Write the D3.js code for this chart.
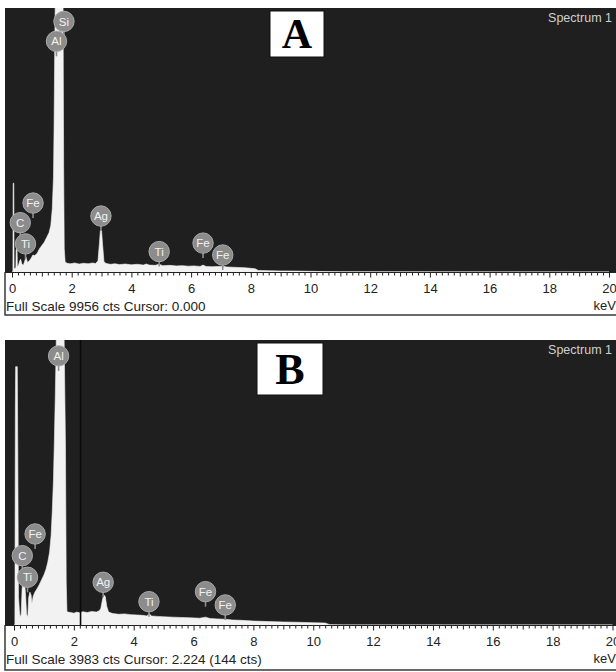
<!DOCTYPE html>
<html>
<head>
<meta charset="utf-8">
<script src="https://cdn.jsdelivr.net/npm/d3@7/dist/d3.min.js"></script>
<style>
body { margin: 0; background: #fff; }
</style>
</head>
<body>
<div id="chart"></div>
<script>
var width = 616, height = 672;

// tick labels (keV)
var tickLabels = [0, 2, 4, 6, 8, 10, 12, 14, 16, 18, 20];

// ---- spectrum A ----
var fullScaleA = 9956;
var cursorA = "0.000";
var energyA = [0.00, 0.03, 0.04, 0.06, 0.07, 0.10, 0.13, 0.14, 0.17, 0.18, 0.22, 0.26, 0.29, 0.33, 0.38, 0.43, 0.47, 0.52,
	0.58, 0.64, 0.70, 0.76, 0.84, 0.92, 1.00, 1.08, 1.16, 1.24, 1.30, 1.35, 1.39, 1.41, 1.43, 1.45, 1.71, 1.73, 1.75, 1.78, 1.85,
	1.95, 2.10, 2.25, 2.40, 2.55, 2.70, 2.80, 2.88, 2.93, 2.96, 3.00, 3.03, 3.08, 3.15, 3.30, 3.45, 3.60, 3.80, 4.00, 4.20,
	4.40, 4.50, 4.60, 4.80, 4.93, 5.05, 5.30, 5.50, 5.70, 5.90, 6.10, 6.30, 6.40, 6.50, 6.70, 6.90, 7.06, 7.20, 7.40, 7.60,
	7.80, 8.00, 8.15, 8.25, 8.60, 9.00, 9.50, 10.00, 10.50, 11.00, 12.00, 20.00];
var countsA = [0, 0, 3350, 3350, 150, 120, 180, 850, 850, 200, 260, 420, 480, 300, 250, 420, 560, 360,
	420, 520, 640, 620, 700, 880, 1000, 1120, 1300, 1480, 1750, 2400, 3600, 5500, 8200, 10400, 10400, 4000, 900, 380, 330,
	310, 340, 300, 330, 310, 340, 320, 420, 1100, 1560, 1560, 1100, 400, 320, 290, 310, 280, 300, 270, 290,
	260, 300, 260, 250, 290, 240, 250, 230, 240, 220, 230, 210, 260, 210, 200, 210, 220, 190, 180, 170,
	160, 140, 120, 60, 50, 40, 35, 25, 15, 10, 5, 0];
var peakNamesA = ["Si", "Al", "Fe", "C", "Ti", "Ag", "Ti", "Fe", "Fe"];
var peakEnergyA = [1.74, 1.49, 0.705, 0.277, 0.452, 2.98, 4.93, 6.40, 7.06];
var peakLevelA = [9450, 8700, 2600, 1860, 1060, 2110, 770, 1090, 640];

// ---- spectrum B ----
var fullScaleB = 3983;
var cursorB = 2.224;
var cursorCountsB = 144;
var energyB = [0.00, 0.03, 0.045, 0.055, 0.11, 0.125, 0.15, 0.18, 0.21, 0.24, 0.27, 0.30, 0.35, 0.39, 0.42, 0.46, 0.49, 0.53,
	0.57, 0.60, 0.64, 0.70, 0.76, 0.84, 0.92, 1.00, 1.07, 1.13, 1.19, 1.24, 1.28, 1.32, 1.35, 1.38, 1.41, 1.43, 1.66, 1.72,
	1.745, 1.77, 1.80, 1.90, 2.00, 2.10, 2.20, 2.30, 2.45, 2.60, 2.75, 2.85, 2.90, 2.96, 3.00, 3.05, 3.10, 3.16, 3.30, 3.50,
	3.70, 3.90, 4.10, 4.30, 4.45, 4.51, 4.60, 4.80, 5.00, 5.30, 5.60, 5.90, 6.20, 6.40, 6.55, 6.80, 7.06, 7.30, 7.60, 8.00,
	8.50, 9.00, 9.50, 10.00, 10.40, 10.55, 11.00, 20.00];
var countsB = [0, 0, 3000, 3610, 3610, 2500, 400, 200, 110, 150, 500, 640, 620, 400, 150, 110, 380, 460,
	420, 300, 400, 460, 500, 560, 630, 700, 780, 880, 1020, 1250, 1600, 2050, 2600, 3200, 3900, 4500, 4500, 2500,
	600, 190, 180, 175, 165, 180, 170, 185, 175, 190, 180, 200, 230, 360, 420, 400, 260, 180, 160, 150,
	155, 145, 140, 135, 125, 160, 125, 120, 115, 110, 105, 100, 95, 110, 90, 85, 80, 70, 65, 55,
	48, 42, 38, 32, 28, 5, 0, 0];
var peakNamesB = ["Al", "Fe", "C", "Ti", "Ag", "Ti", "Fe", "Fe"];
var peakEnergyB = [1.49, 0.705, 0.277, 0.452, 2.98, 4.51, 6.40, 7.06];
var peakLevelB = [3761, 1272, 969, 667, 597, 326, 466, 280];

var panels = [
	{ id: "A", top: 8, axisY: 272, bottom: 315, x0: 12, x1: 609,
	  energy: energyA, counts: countsA, fullScale: fullScaleA,
	  names: peakNamesA, lines: peakEnergyA, levels: peakLevelA,
	  box: { x: 270, y: 11, w: 54, h: 46, size: 42 },
	  footer: "Full Scale " + fullScaleA + " cts Cursor: " + cursorA, cursor: null },
	{ id: "B", top: 340, axisY: 625, bottom: 670, x0: 14, x1: 612.5,
	  energy: energyB, counts: countsB, fullScale: fullScaleB,
	  names: peakNamesB, lines: peakEnergyB, levels: peakLevelB,
	  box: { x: 257, y: 343, w: 66, h: 52, size: 44 },
	  footer: "Full Scale " + fullScaleB + " cts Cursor: " + cursorB.toFixed(3) + "  (" + cursorCountsB + " cts)", cursor: cursorB }
];

var sans = "Arial, 'Liberation Sans', sans-serif";

var svg = d3.select("#chart")
	.append("svg")
	.attr("width", width)
	.attr("height", height)
	.attr("font-family", sans)
	.attr("viewBox", "0 0 " + width + " " + height);

var left = 5;

panels.forEach(function(p, pi) {
	var g = svg.append("g").attr("class", "panel-" + p.id);

	var x = d3.scaleLinear().domain([0, 20]).range([p.x0, p.x1]);
	var y = d3.scaleLinear().domain([0, p.fullScale]).range([p.axisY, p.top]);

	// dark plot background
	g.append("rect")
		.attr("x", left)
		.attr("y", p.top)
		.attr("width", width - left)
		.attr("height", p.axisY - p.top)
		.attr("fill", "#1f1f1f");

	// clip the spectrum to the plot
	svg.append("clipPath")
		.attr("id", "clip" + pi)
		.append("rect")
		.attr("x", left)
		.attr("y", p.top)
		.attr("width", width - left)
		.attr("height", p.axisY - p.top);

	var pts = p.energy.map(function(e, i) { return [e, p.counts[i]]; });
	var area = d3.area()
		.x(function(d) { return x(d[0]); })
		.y0(y(0))
		.y1(function(d) { return y(d[1]); });

	g.append("path")
		.datum(pts)
		.attr("clip-path", "url(#clip" + pi + ")")
		.attr("fill", "#f2f2f2")
		.attr("stroke", "#f2f2f2")
		.attr("stroke-width", 0.6)
		.attr("d", area);

	// cursor line
	if (p.cursor != null) {
		g.append("line")
			.attr("x1", x(p.cursor)).attr("x2", x(p.cursor))
			.attr("y1", p.top).attr("y2", p.axisY)
			.attr("stroke", "#0a0a0a")
			.attr("stroke-width", 1.6);
	}

	// "Spectrum 1"
	g.append("text")
		.attr("x", 612)
		.attr("y", p.top + 14)
		.attr("text-anchor", "end")
		.attr("font-size", "12.5px")
		.attr("fill", "#cfcfcf")
		.text("Spectrum 1");

	// panel letter box
	g.append("rect")
		.attr("x", p.box.x).attr("y", p.box.y)
		.attr("width", p.box.w).attr("height", p.box.h)
		.attr("fill", "#fff")
		.attr("stroke", "#111")
		.attr("stroke-width", 1);
	g.append("text")
		.attr("x", p.box.x + p.box.w / 2)
		.attr("y", p.box.y + p.box.h / 2 + p.box.size * 0.33)
		.attr("text-anchor", "middle")
		.style("font-family", "'Liberation Serif', 'Times New Roman', serif")
		.style("font-weight", "bold")
		.style("font-size", p.box.size + "px")
		.attr("fill", "#000")
		.text(p.id);

	// element markers
	var markers = g.selectAll(".marker")
		.data(p.names)
		.enter()
		.append("g")
		.attr("class", "marker")
		.attr("transform", function(d, i) {
			return "translate(" + x(p.lines[i]) + "," + y(p.levels[i]) + ")";
		});

	markers.append("line")
		.attr("x1", 0).attr("x2", 0)
		.attr("y1", 8).attr("y2", 15)
		.attr("stroke", "#8e8e8e")
		.attr("stroke-width", 1.6);

	markers.append("circle")
		.attr("r", 10.2)
		.attr("fill", "#8c8c8c")
		.attr("stroke", "#aaaaaa")
		.attr("stroke-width", 1);

	markers.append("text")
		.attr("text-anchor", "middle")
		.attr("dy", "0.36em")
		.attr("font-size", "11.5px")
		.attr("fill", "#f2f2f2")
		.text(function(d) { return d; });

	// white axis strip with frame
	g.append("rect")
		.attr("x", left)
		.attr("y", p.axisY)
		.attr("width", width - left)
		.attr("height", p.bottom - p.axisY)
		.attr("fill", "#fff");
	g.append("path")
		.attr("d", "M" + left + "," + p.axisY + "V" + p.bottom + "H" + width)
		.attr("fill", "none")
		.attr("stroke", "#3a3a3a")
		.attr("stroke-width", 1.5);
	g.append("line")
		.attr("x1", left).attr("x2", width)
		.attr("y1", p.axisY + 0.5).attr("y2", p.axisY + 0.5)
		.attr("stroke", "#222")
		.attr("stroke-width", 1.2);

	// ruler ticks every 0.2 keV
	var minor = d3.range(0, 101).map(function(i) { return i / 5; });
	var axis = d3.axisBottom(x)
		.tickValues(minor)
		.tickSize(6)
		.tickSizeOuter(0)
		.tickPadding(5)
		.tickFormat(function(v) {
			var r = Math.round(v);
			return (Math.abs(v - r) < 1e-6 && tickLabels.indexOf(r) >= 0) ? r : "";
		});

	var ax = g.append("g")
		.attr("transform", "translate(0," + (p.axisY + 0.5) + ")")
		.call(axis);
	ax.select(".domain").remove();
	ax.selectAll(".tick line")
		.attr("stroke", "#222")
		.attr("y2", function(v) {
			var r = Math.round(v);
			if (Math.abs(v - r) > 1e-6) return 3;
			return (r % 2 == 0) ? 5 : 4;
		});
	ax.selectAll(".tick text")
		.attr("font-size", "13px")
		.attr("fill", "#222")
		.attr("font-family", sans);

	// footer
	g.append("text")
		.attr("x", left + 1)
		.attr("y", p.axisY + 39)
		.attr("font-size", "13.5px")
		.attr("fill", "#222")
		.text(p.footer);
	g.append("text")
		.attr("x", width)
		.attr("y", p.axisY + 38)
		.attr("text-anchor", "end")
		.attr("font-size", "13px")
		.attr("fill", "#222")
		.text("keV");
});
</script>
</body>
</html>
